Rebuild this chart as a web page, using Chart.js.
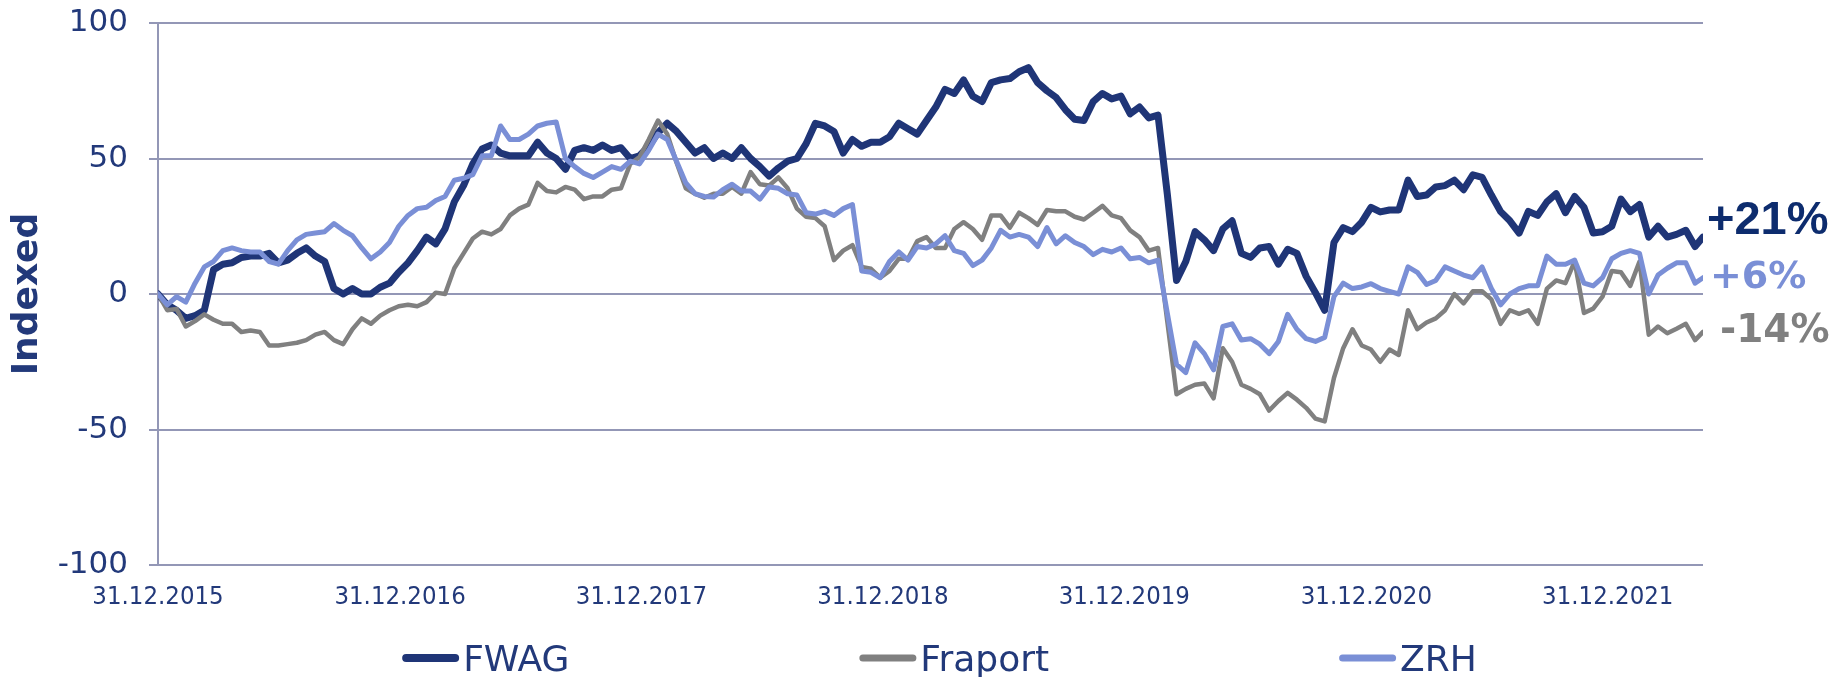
<!DOCTYPE html>
<html>
<head>
<meta charset="utf-8">
<script src="https://cdn.jsdelivr.net/npm/chart.js@4.4.0/dist/chart.umd.min.js"></script>
<style>
html,body{margin:0;padding:0;background:#ffffff;}
#wrap{position:relative;width:1839px;height:677px;}
canvas{display:block;}
</style>
</head>
<body>
<div id="wrap"><canvas id="c" width="1839" height="677"></canvas></div>
<script>
// ---------- data ----------
const startDate = '2015-12-31';
const endDate = '2022-05-24';
const sampleStepDays = 14;
const tickLabels = ['31.12.2015','31.12.2016','31.12.2017','31.12.2018','31.12.2019','31.12.2020','31.12.2021'];
const yTickValues = [-100, -50, 0, 50, 100];
const seriesNames = ['FWAG', 'Fraport', 'ZRH'];
const endLabels = ['+21%', '+6%', '-14%'];

const fwag = [
  0, -4, -6, -9, -8, -6, 9, 11, 11.5, 13.5, 14, 14, 15, 11.5, 12.5, 15, 17, 14, 12, 2, 0, 2, 0, 0, 2.5, 4, 8, 11.5,
  16, 21, 18.5, 24, 34, 40, 48, 53.5, 55, 52, 51, 51, 51, 56, 52, 50, 46, 53, 54, 53, 55, 53, 54, 50, 51, 54.5, 59.5, 63,
  60, 56, 52, 54, 50, 52, 50, 54, 50, 47, 43.5, 46.5, 49, 50, 55.5, 63, 62, 60, 52, 57, 54.5, 56, 56, 58, 63, 61, 59,
  64, 69, 75.5, 74, 79, 73, 71, 78, 79, 79.5, 82, 83.5, 78, 75, 72.5, 68, 64.5, 64, 71, 74, 72, 73, 66.5, 69, 65, 66, 37, 5,
  12, 23, 20, 16, 24, 27, 15, 13.5, 17, 17.5, 11, 16.5, 15, 6.5, 0.5, -6, 19, 24.5, 23, 26.5, 32, 30.3, 31, 31, 42, 36, 36.5,
  39.5, 40, 42, 38.5, 44, 43, 36.5, 30.4, 27, 22.5, 30.5, 29, 34, 37, 30, 36, 32, 22.5, 23, 25, 35, 30.4, 33, 21, 25, 21, 22, 23.5, 17.5, 21
];

const fraport = [
  0, -6, -5.5, -12, -10, -7.5, -9.5, -11, -11, -14, -13.5, -14, -19, -19, -18.5, -18, -17, -15, -14, -17, -18.5, -13, -9, -11, -8, -6, -4.5, -4,
  -4.5, -3, 0.5, 0, 9.5, 15, 20.5, 23, 22, 24, 29, 31.5, 33, 41, 38, 37.5, 39.5, 38.5, 35, 36, 36, 38.5, 39, 48, 50.5, 57, 64, 59,
  48.5, 39, 37, 35.5, 37, 37, 39.5, 37, 45, 40.5, 40, 43, 39, 31.5, 28.5, 28, 25, 12.5, 16, 18, 10, 9.3, 6, 8.5, 13, 13, 19.5,
  21, 17, 17, 24, 26.5, 24, 20, 29, 29, 24.5, 30, 28, 25.5, 31, 30.5, 30.5, 28.5, 27.5, 30, 32.5, 29, 28, 23.5, 21, 16, 17, -10, -37,
  -35, -33.5, -33, -38.5, -20, -25, -33.5, -35, -37, -43, -39.5, -36.5, -39, -42, -46, -47, -31, -20, -13, -19, -20.5, -25, -20.5, -22.5, -6, -13, -10.5,
  -9, -6, 0, -3.5, 1, 1, -2, -11, -6, -7.3, -6, -11, 2, 5, 4, 12, -7, -5.4, -1, 8.5, 8, 3, 12, -15, -12, -14.5, -12.8, -11, -17, -14
];

const zrh = [
  0, -4, -1, -3, 4, 10, 12, 16, 17, 16, 15.5, 15.5, 12, 11, 16, 20, 22, 22.5, 23, 26, 23.5, 21.5, 17, 13, 15.5, 19, 25, 29,
  31.5, 32, 34.5, 36, 42, 42.7, 44, 51, 51, 62, 57, 57, 59, 62, 63, 63.5, 50, 47, 44.5, 43, 45, 47, 46, 49, 48, 53, 59, 57,
  49, 41, 37, 36, 35.8, 38.5, 40.5, 38, 38, 35, 39.5, 39, 37, 36.5, 30, 29.5, 30.5, 29, 31.5, 33, 8.5, 8, 6, 12, 15.5, 12.5, 17.5,
  17, 18.5, 21.5, 16, 15, 10.5, 12.5, 17, 23.5, 21, 22, 21, 17.5, 24.5, 18.5, 21.5, 19, 17.5, 14.5, 16.5, 15.5, 17, 13, 13.5, 11.5, 12.5, -7, -26,
  -29, -18, -22, -28, -12, -11, -17, -16.5, -18.5, -22, -17.5, -7.5, -13, -16.5, -17.5, -16, -1, 4, 2, 2.6, 3.8, 2, 1, 0, 10, 8, 3.5,
  5, 10, 8.5, 7, 6, 10, 2, -4, 0, 2, 3, 3, 14, 11, 11, 12.5, 4, 3, 6, 13, 15, 16, 15, 0, 7, 9.5, 11.5, 11.5, 4, 6
];

// ---------- helpers ----------
function parseISO(s) { const [y, m, d] = s.split('-').map(Number); return Date.UTC(y, m - 1, d); }
function parseDE(s) { const [d, m, y] = s.split('.').map(Number); return Date.UTC(y, m - 1, d); }
const DAY = 86400000;
const t0 = parseISO(startDate);
const endDay = Math.round((parseISO(endDate) - t0) / DAY);
const tickDays = tickLabels.map(l => Math.round((parseDE(l) - t0) / DAY));
function toPoints(values) {
  return values.map((v, i) => ({ x: Math.min(i * sampleStepDays, endDay), y: v }));
}

// ---------- styles ----------
const navy = '#1f3577';
const grayC = '#808080';
const lightC = '#7a8fd6';
const textNavy = '#22397a';
const gridC = '#9397b6';
const seriesColors = [navy, grayC, lightC];
const seriesLegendWidths = [8, 7, 7];

const legendPlugin = {
  id: 'customLegend',
  afterDraw(chart) {
    const ctx = chart.ctx;
    const lineLen = 57, gap = 4, itemGap = 290, centerX = 939.5, lineY = 658, baseY = 671;
    ctx.save();
    ctx.font = '36px "DejaVu Sans"';
    const widths = seriesNames.map(n => lineLen + gap + ctx.measureText(n).width);
    const total = widths.reduce((a, b) => a + b, 0) + itemGap * (seriesNames.length - 1);
    let x = centerX - total / 2;
    seriesNames.forEach((name, i) => {
      const lw = seriesLegendWidths[i];
      ctx.strokeStyle = seriesColors[i];
      ctx.lineWidth = lw;
      ctx.lineCap = 'round';
      ctx.beginPath();
      ctx.moveTo(x + lw / 2, lineY);
      ctx.lineTo(x + lineLen - lw / 2, lineY);
      ctx.stroke();
      ctx.fillStyle = textNavy;
      ctx.textAlign = 'left';
      ctx.textBaseline = 'alphabetic';
      ctx.fillText(name, x + lineLen + gap, baseY);
      x += widths[i] + itemGap;
    });
    ctx.restore();
  }
};

const endLabelStyle = [
  { font: 'bold 47px "Liberation Sans"', color: '#0d2c6e', dx: 4, anchor: 27 },
  { font: 'bold 38px "DejaVu Sans"', color: lightC, dx: 7, anchor: 6 },
  { font: 'bold 39px "DejaVu Sans"', color: grayC, dx: 17, anchor: -14 }
];

const endLabelPlugin = {
  id: 'endLabels',
  afterDraw(chart) {
    const ctx = chart.ctx;
    const ys = chart.scales.y;
    const right = chart.chartArea.right;
    ctx.save();
    endLabels.forEach((txt, i) => {
      const st = endLabelStyle[i];
      ctx.font = st.font;
      ctx.fillStyle = st.color;
      ctx.textAlign = 'left';
      ctx.textBaseline = 'middle';
      ctx.fillText(txt, right + st.dx, ys.getPixelForValue(st.anchor));
    });
    ctx.restore();
  }
};

const ctx = document.getElementById('c').getContext('2d');
new Chart(ctx, {
  type: 'line',
  data: {
    datasets: [
      { label: seriesNames[0], data: toPoints(fwag), borderColor: navy, borderWidth: 7, order: 3 },
      { label: seriesNames[1], data: toPoints(fraport), borderColor: grayC, borderWidth: 4.5, order: 2 },
      { label: seriesNames[2], data: toPoints(zrh), borderColor: lightC, borderWidth: 5, order: 1 }
    ]
  },
  options: {
    responsive: false,
    animation: false,
    devicePixelRatio: 1,
    layout: { padding: { top: 23, right: 136, left: 0, bottom: 0 } },
    elements: {
      point: { radius: 0, hoverRadius: 0 },
      line: { tension: 0, fill: false, borderJoinStyle: 'round', borderCapStyle: 'round' }
    },
    plugins: { legend: { display: false }, tooltip: { enabled: false } },
    scales: {
      x: {
        type: 'linear',
        min: 0,
        max: endDay,
        grid: { display: false, drawTicks: false, tickLength: 0 },
        border: { display: false },
        afterBuildTicks: s => { s.ticks = tickDays.map(v => ({ value: v })); },
        ticks: {
          autoSkip: false,
          maxRotation: 0,
          padding: 17,
          color: textNavy,
          font: { family: '"DejaVu Sans Condensed", "DejaVu Sans"', size: 25.5 },
          callback: v => { const i = tickDays.indexOf(v); return i >= 0 ? tickLabels[i] : ''; }
        },
        afterFit: s => { s.height = 112; s.paddingTop = 0; s.paddingBottom = 0; }
      },
      y: {
        min: -100,
        max: 100,
        afterBuildTicks: s => { s.ticks = yTickValues.map(v => ({ value: v })); },
        grid: { color: gridC, lineWidth: 2, drawTicks: true, tickLength: 9 },
        border: { display: true, color: gridC, width: 2 },
        ticks: { padding: 21, color: textNavy, font: { family: 'DejaVu Sans', size: 31 } },
        title: {
          display: true,
          text: 'Indexed',
          color: textNavy,
          font: { family: 'DejaVu Sans', size: 36, weight: 'bold' },
          padding: { top: 6, bottom: 0 }
        },
        afterFit: s => { s.width = 158; s.paddingTop = 0; s.paddingBottom = 0; }
      }
    }
  },
  plugins: [legendPlugin, endLabelPlugin]
});
</script>
</body>
</html>
